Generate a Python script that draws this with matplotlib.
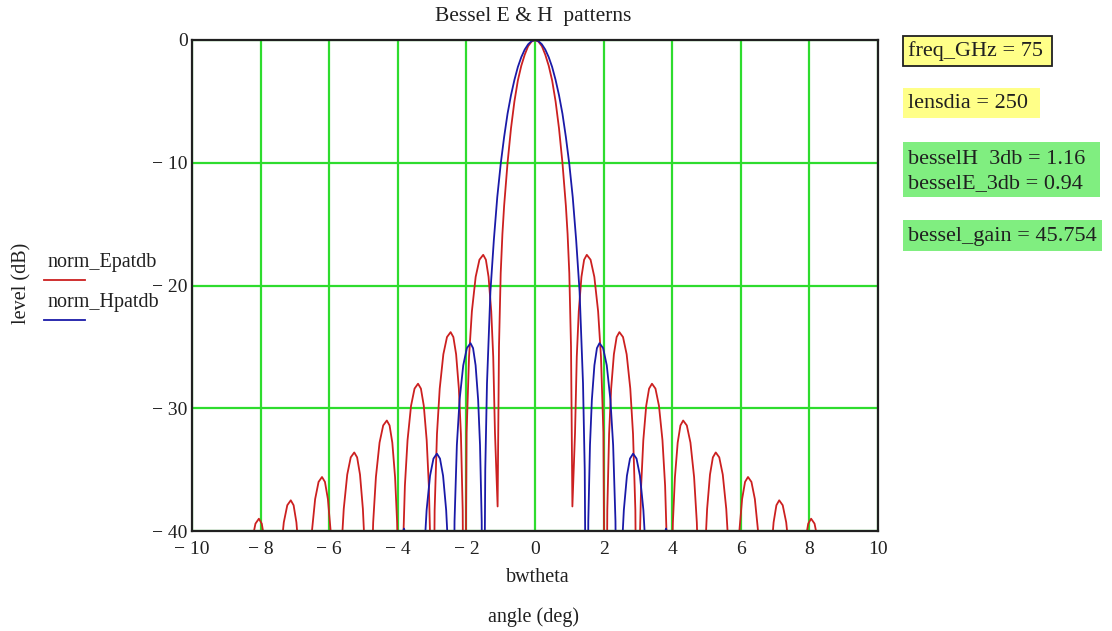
import numpy as np
import matplotlib.pyplot as plt
from matplotlib.patches import Rectangle

# half patterns (angle >= 0), both patterns are symmetric about 0
e_angle = [0, 0.1, 0.2, 0.3, 0.4, 0.5, 0.6, 0.7, 0.8, 0.9, 0.95, 1.0, 1.05, 1.09,
           1.167, 1.218, 1.276, 1.354, 1.432, 1.51, 1.62, 1.73, 1.84, 1.923, 1.994, 2.06,
           2.108, 2.16, 2.22, 2.30, 2.38, 2.46, 2.566, 2.672, 2.778, 2.858, 2.926, 2.99,
           3.040, 3.095, 3.158, 3.242, 3.326, 3.41, 3.512, 3.614, 3.716, 3.793, 3.859, 3.92,
           3.968, 4.02, 4.08, 4.16, 4.24, 4.32, 4.426, 4.532, 4.638, 4.718, 4.786, 4.85,
           4.900, 4.955, 5.018, 5.102, 5.186, 5.27, 5.372, 5.474, 5.576, 5.653, 5.719, 5.78,
           5.832, 5.888, 5.952, 6.038, 6.124, 6.21, 6.31, 6.41, 6.51, 6.585, 6.65, 6.71,
           6.759, 6.813, 6.874, 6.956, 7.038, 7.12, 7.222, 7.324, 7.426, 7.503, 7.569, 7.63,
           7.680, 7.735, 7.798, 7.882, 7.966, 8.05, 8.15, 8.25, 8.35, 8.425, 8.49, 8.55,
           10.0]
e_level = [0, -0.13, -0.5, -1.2, -2.1, -3.3, -5.0, -7.2, -10.0, -13.5, -15.8, -19.0, -25.0, -38.0,
           -32.0, -25.8, -22.1, -19.3, -17.9, -17.5, -17.9, -19.3, -22.1, -25.8, -32.0, -60,
           -38.3, -32.1, -28.4, -25.6, -24.2, -23.8, -24.2, -25.6, -28.4, -32.1, -38.3, -60,
           -42.5, -36.3, -32.6, -29.8, -28.4, -28.0, -28.4, -29.8, -32.6, -36.3, -42.5, -60,
           -45.5, -39.3, -35.6, -32.8, -31.4, -31.0, -31.4, -32.8, -35.6, -39.3, -45.5, -60,
           -48.1, -41.9, -38.2, -35.4, -34.0, -33.6, -34.0, -35.4, -38.2, -41.9, -48.1, -60,
           -50.1, -43.9, -40.2, -37.4, -36.0, -35.6, -36.0, -37.4, -40.2, -43.9, -50.1, -60,
           -52.0, -45.8, -42.1, -39.3, -37.9, -37.5, -37.9, -39.3, -42.1, -45.8, -52.0, -60,
           -53.5, -47.3, -43.6, -40.8, -39.4, -39.0, -39.4, -40.8, -43.6, -47.3, -53.5, -60,
           -60]

h_angle = [0, 0.1, 0.2, 0.3, 0.4, 0.5, 0.6, 0.7, 0.8, 0.9, 1.0, 1.1, 1.2, 1.3, 1.4, 1.45, 1.51,
           1.554, 1.603, 1.658, 1.732, 1.806, 1.88, 1.986, 2.092, 2.198, 2.278, 2.346, 2.41,
           2.464, 2.523, 2.59, 2.68, 2.77, 2.86, 2.96, 3.06, 3.16, 3.235, 3.30, 3.36,
           3.72, 3.82, 3.92, 4.28, 10.0]
h_level = [0, -0.09, -0.35, -0.78, -1.4, -2.2, -3.25, -4.5, -6.0, -7.9, -10.1, -12.8, -16.3, -20.5, -28.0, -35.0, -60,
           -39.2, -33.0, -29.3, -26.5, -25.1, -24.7, -25.1, -26.5, -29.3, -33.0, -39.2, -60,
           -48.2, -42.0, -38.3, -35.5, -34.1, -33.7, -34.1, -35.5, -38.3, -42.0, -48.2, -60,
           -40.8, -39.8, -40.8, -60, -60]

x_ticks = [-10, -8, -6, -4, -2, 0, 2, 4, 6, 8, 10]
y_ticks = [-40, -30, -20, -10, 0]
series_names = ['norm_Epatdb', 'norm_Hpatdb']
results = ['freq_GHz = 75', 'lensdia = 250', 'besselH  3db = 1.16', 'besselE_3db = 0.94',
           'bessel_gain = 45.754']


def mirror(a, v):
    a = np.asarray(a, float)
    v = np.asarray(v, float)
    return np.concatenate((-a[:0:-1], a)), np.concatenate((v[:0:-1], v))


def lab(n):
    return '\u2212 %d' % -n if n < 0 else '%d' % n


plt.rcParams['font.family'] = ['Liberation Serif', 'DejaVu Serif']
W, H = 1112, 631
fig = plt.figure(figsize=(W / 100, H / 100), dpi=100)
ax = fig.add_axes([192 / W, 1 - 531 / H, 686 / W, 491 / H])

red, blue = '#cc2020', '#1a1aa8'
ax.plot(*mirror(e_angle, e_level), color=red, lw=1.3, zorder=3)
ax.plot(*mirror(h_angle, h_level), color=blue, lw=1.3, zorder=4)

ax.set_xlim(-10, 10)
ax.set_ylim(-40, 0)
ax.set_xticks(x_ticks)
ax.set_xticklabels([lab(t) for t in x_ticks])
ax.set_yticks(y_ticks)
ax.set_yticklabels([lab(t) for t in y_ticks])
ax.tick_params(length=0, labelsize=14, colors='#202020')
ax.tick_params(axis='x', pad=7)
ax.tick_params(axis='y', pad=3)
ax.grid(True, color='#2edc2e', lw=1.6)
ax.set_axisbelow(True)
for s in ax.spines.values():
    s.set_linewidth(1.6)
    s.set_color('#202020')
    s.set_zorder(5)

def ftext(x, y, s, **kw):
    kw.setdefault('fontsize', 14.5)
    kw.setdefault('color', '#202020')
    fig.text(x / W, 1 - y / H, s, **kw)

ftext(533, 16, 'Bessel E & H  patterns', ha='center', va='center', fontsize=15.5)
ftext(538, 578, 'bwtheta', ha='center', va='center')
ftext(534, 617, 'angle (deg)', ha='center', va='center')
ftext(22, 283, 'level (dB)', ha='center', va='center', rotation=90)

# legend, Mathcad style: name above a short line
for name, col, ty, ly in [(series_names[0], red, 263, 280), (series_names[1], blue, 303, 320)]:
    ftext(47, ty, name, ha='left', va='center')
    fig.add_artist(plt.Line2D([44 / W, 85 / W], [1 - ly / H, 1 - ly / H], color=col, lw=1.3))

# result boxes on the right
yellow, green = '#ffff88', '#80ee80'
boxes = [(903, 36, 149, 30, yellow, True), (903, 88, 137, 30, yellow, False),
         (903, 142, 197, 55, green, False), (903, 220, 199, 31, green, False)]
for x0, y0, w, h, fc, edge in boxes:
    fig.add_artist(Rectangle((x0 / W, 1 - (y0 + h) / H), w / W, h / H, transform=fig.transFigure,
                             facecolor=fc, edgecolor='#202020' if edge else 'none', lw=1.3))
for s, y in zip(results, [51, 103, 160, 184, 236]):
    ftext(908, y, s, ha='left', va='center', fontsize=16)

fig.savefig('out.png', dpi=100)
